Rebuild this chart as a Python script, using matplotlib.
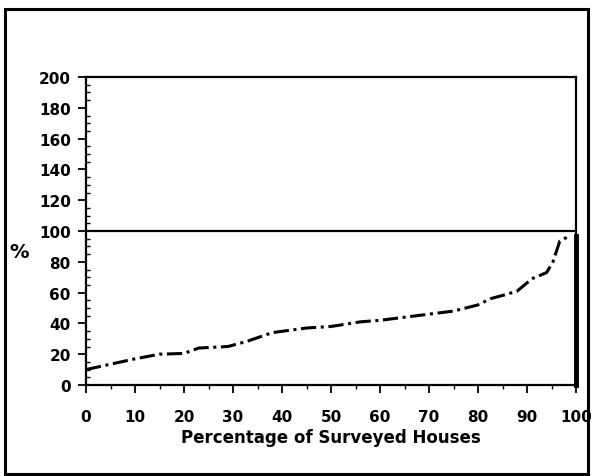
import matplotlib
matplotlib.use("Agg")
import matplotlib.pyplot as plt
from matplotlib.patches import Rectangle
from matplotlib.ticker import MultipleLocator

# Data (percentage of surveyed houses vs %)
x_pct = [0, 5, 10, 15, 20, 23, 29, 33, 38, 45, 50, 56, 60, 65, 70, 75, 80, 82.5, 86, 88, 91, 94, 95.3, 96.7, 98.2]
y_val = [10, 13.5, 17, 20, 20.5, 24, 25, 28.5, 34, 37, 38, 41, 42, 44, 46, 48, 52, 56, 59, 61, 69, 73, 80, 93.5, 96]

x_ticks = [0, 10, 20, 30, 40, 50, 60, 70, 80, 90, 100]
y_ticks = [0, 20, 40, 60, 80, 100, 120, 140, 160, 180, 200]
ref_level = 100

plt.rcParams['font.family'] = ['DejaVu Sans']

fig = plt.figure(figsize=(5.96, 4.77), dpi=100)
ax = fig.add_axes([86/596, 1 - 386/477, (576-86)/596, (386-78)/477])

ax.plot(x_pct, y_val, color='black', lw=2.2, linestyle=(0, (5, 1.5, 1, 1.5)), solid_capstyle='round')
ax.axhline(ref_level, color='black', lw=1.6)
ax.plot([100, 100], [0, ref_level - 3], color='black', lw=3.5, clip_on=False)

ax.set_xlim(0, 100)
ax.set_ylim(0, 200)
ax.set_xticks(x_ticks)
ax.set_yticks(y_ticks)
ax.xaxis.set_minor_locator(MultipleLocator(5))
ax.yaxis.set_minor_locator(MultipleLocator(5))
ax.tick_params(axis='both', which='major', direction='out', length=6, width=1.3, labelsize=11)
ax.tick_params(axis='y', which='minor', direction='in', length=3, width=1)
ax.tick_params(axis='x', which='minor', direction='out', length=3, width=1)
ax.tick_params(axis='x', which='major', pad=11)
ax.tick_params(axis='y', which='major', pad=5)
for lab in ax.get_xticklabels() + ax.get_yticklabels():
    lab.set_fontweight('bold')
for s in ax.spines.values():
    s.set_linewidth(1.6)

ax.set_xlabel('Percentage of Surveyed Houses', fontsize=12, fontweight='bold', labelpad=3)
fig.text(19/596, 1 - 252/477, '%', fontsize=14, fontweight='bold', ha='center', va='center')

# outer border
fig.patches.append(Rectangle((5/596, 2/477), (588-5)/596, (467-2)/477, transform=fig.transFigure,
                             fill=False, edgecolor='black', lw=2.2))

fig.savefig('out.png', dpi=100)
